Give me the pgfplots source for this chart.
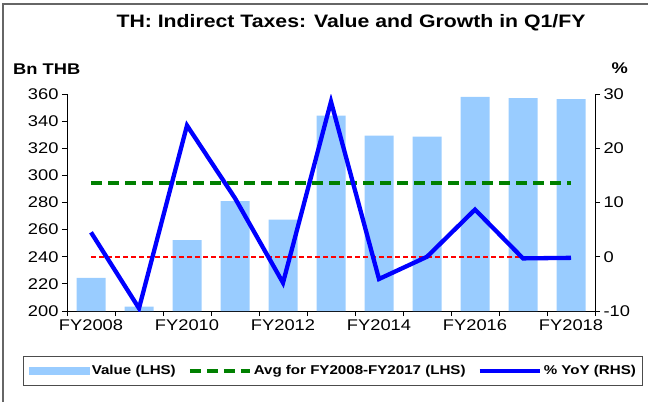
\documentclass[border=0pt]{standalone}
\usepackage{fontspec}
\setmainfont{Liberation Sans}[FakeStretch=1.18]
\usepackage{pgfplots}
\pgfplotsset{compat=1.18}

\definecolor{barblue}{HTML}{99CCFF}
\definecolor{lineblue}{HTML}{0000FF}
\definecolor{avggreen}{HTML}{008000}

% value in Bn THB (LHS), growth in % (RHS)
\pgfplotstableread{
x  val    yoy
0  224.5   4.5
1  203.2  -9.5
2  252.3  24.2
3  281.0  10.8
4  267.3  -4.8
5  344.0  28.6
6  329.3  -4.1
7  328.6   0.0
8  357.8   8.7
9  356.9  -0.3
10 356.3  -0.2
}\taxdata

\pgfplotsset{
  taxaxis/.style={
    at={(67pt,-311pt)}, anchor=south west,
    width=528pt, height=217pt, scale only axis,
    xmin=-0.5, xmax=10.5,
    tick align=outside,
    major tick length=5pt, minor tick length=5pt,
    tick style={black, line width=0.8pt},
    axis line style={black, line width=0.8pt},
    ticklabel style={font=\fontsize{15.5}{18}\selectfont},
    /pgf/number format/assume math mode=true,
  },
}

\begin{document}
\begin{tikzpicture}
\useasboundingbox (0pt,0pt) rectangle (648pt,-402pt);
\draw[gray!80!black, line width=1.2pt] (3pt,-402pt) -- (3pt,-4pt) -- (649pt,-4pt);

\node[anchor=base, font=\bfseries\fontsize{18}{21}\selectfont] at (351pt,-27pt) {TH: Indirect Taxes: Value and Growth in Q1/FY};
\node[anchor=base west, inner sep=0pt, font=\bfseries\fontsize{15.5}{18}\selectfont] at (13pt,-74pt) {Bn THB};
\node[anchor=base east, inner sep=0pt, font=\bfseries\fontsize{15.5}{18}\selectfont] at (628pt,-73pt) {\%};

\begin{axis}[taxaxis,
  ymin=200, ymax=360, ytick={200,220,...,360},
  axis y line*=left, axis x line*=bottom,
  xtick={0,2,...,10},
  xticklabels={FY2008,FY2010,FY2012,FY2014,FY2016,FY2018},
  minor xtick={-0.5,0.5,...,10.5},
  major x tick style={draw=none},
]
\addplot[ybar, bar width=29pt, fill=barblue, draw=none] table[x=x, y=val] {\taxdata};
\addplot[avggreen, line width=4pt, dash pattern=on 11pt off 6pt] coordinates {(0,294.4) (10,294.4)};
\addplot[red, line width=1.5pt, dash pattern=on 5pt off 3pt] coordinates {(0,240) (10,240)};
\end{axis}

\begin{axis}[taxaxis,
  ymin=-10, ymax=30, ytick={-10,0,...,30},
  axis y line*=right, axis x line=none,
  legend image code/.code={\draw[#1] (0pt,0pt) -- (60pt,0pt);},
  legend columns=3,
  legend style={at={(0.5045,-0.276)}, anchor=center,
    draw=black!70, line width=1pt,
    font=\bfseries\fontsize{12.8}{15}\selectfont,
    inner xsep=5pt, inner ysep=7pt,
    /tikz/every even column/.append style={column sep=10pt}},
]
\addlegendimage{legend image code/.code={\fill[barblue] (0pt,-3.5pt) rectangle (60pt,3.5pt);}}
\addlegendentry{Value (LHS)}
\addlegendimage{avggreen, line width=4pt, dash pattern=on 11pt off 6pt}
\addlegendentry{Avg for FY2008-FY2017 (LHS)}
\addplot[lineblue, line width=4.3pt] table[x=x, y=yoy] {\taxdata};
\addlegendentry{\% YoY (RHS)}
\end{axis}
\end{tikzpicture}
\end{document}
